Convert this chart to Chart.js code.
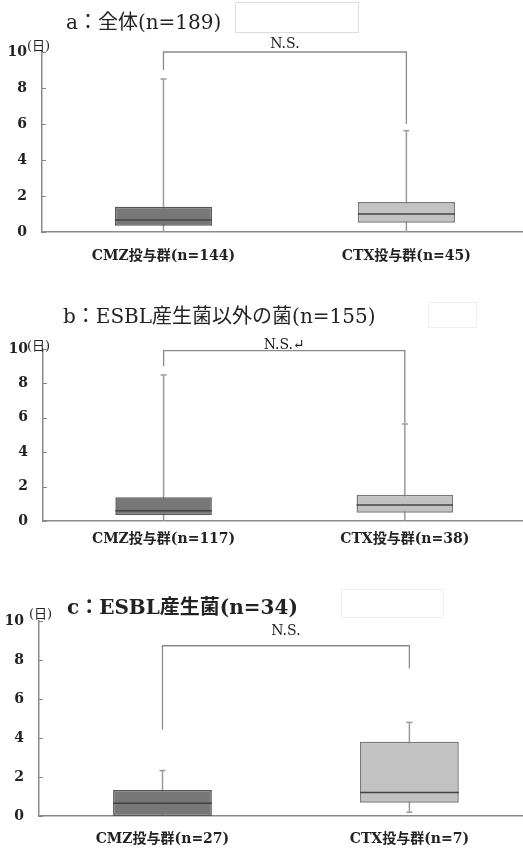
<!DOCTYPE html>
<html>
<head>
<meta charset="utf-8">
<script src="https://cdn.jsdelivr.net/npm/chart.js@4/dist/chart.umd.min.js"></script>
<style>
  body { margin: 0; background: #fff; }
  #page { position: relative; width: 523px; height: 851px; overflow: hidden;
          font-family: "DejaVu Serif", "Noto Sans CJK JP", serif; color: #222; }
  canvas { position: absolute; left: 0; }
  .title { position: absolute; font-size: 20px; white-space: nowrap; }
  .unit { position: absolute; font-size: 13px; white-space: nowrap; }
  .blank { position: absolute; border: 1px solid #ddd; }
</style>
</head>
<body>
<div id="page">
  <canvas id="chartA" width="523" height="275" style="top:0px"></canvas>
  <canvas id="chartB" width="523" height="275" style="top:290px"></canvas>
  <canvas id="chartC" width="523" height="291" style="top:560px"></canvas>

  <div class="title" style="left:66px;top:6px">a：全体(n=189)</div>
  <div class="blank" style="left:235px;top:2px;width:122px;height:29px"></div>
  <div class="unit" style="left:27px;top:35px">(日)</div>

  <div class="title" style="left:63px;top:300px">b：ESBL産生菌以外の菌(n=155)</div>
  <div class="blank" style="left:428px;top:302px;width:47px;height:24px;border-color:#eee"></div>
  <div class="unit" style="left:27px;top:335px">(日)</div>

  <div class="title" style="left:67px;top:591px;font-weight:bold">c：ESBL産生菌(n=34)</div>
  <div class="blank" style="left:341px;top:589px;width:101px;height:27px;border-color:#eee"></div>
  <div class="unit" style="left:29px;top:603px">(日)</div>
</div>
<script>
// tick values for the y axis (days)
const yTicks = [0, 2, 4, 6, 8, 10];

// category labels for each panel
const labelsA = ['CMZ投与群(n=144)', 'CTX投与群(n=45)'];
const labelsB = ['CMZ投与群(n=117)', 'CTX投与群(n=38)'];
const labelsC = ['CMZ投与群(n=27)', 'CTX投与群(n=7)'];

// box stats: [min, q1, median, q3, max]
const statsA_CMZ = [0, 0.35, 0.67, 1.4, 8.5];
const statsA_CTX = [0, 0.51, 1.0, 1.67, 5.63];
const statsB_CMZ = [0, 0.35, 0.6, 1.38, 8.49];
const statsB_CTX = [0, 0.48, 0.93, 1.53, 5.64];
const statsC_CMZ = [0, 0, 0.65, 1.33, 2.33];
const statsC_CTX = [0.19, 0.68, 1.2, 3.81, 4.8];

// significance bracket: [left foot, top, right foot]
const bracketA = [9.0, 10, 6.0];
const bracketB = [9.0, 9.9, 5.7];
const bracketC = [4.44, 8.73, 7.57];
const sigTextA = 'N.S.';
const sigTextB = 'N.S.↵';
const sigTextC = 'N.S.';

const boxFill = ['#777777', '#c2c2c2'];
const boxEdge = ['#555555', '#7a7a7a'];
const FONT = '"DejaVu Serif", "Noto Sans CJK JP", serif';

// draws whiskers, medians, inner ticks and the bracket
const boxExtras = {
  id: 'boxExtras',
  beforeDatasetsDraw(chart) {
    const ctx = chart.ctx, x = chart.scales.x, y = chart.scales.y;
    const stats = chart.options.plugins.boxExtras.stats;
    ctx.save();
    ctx.strokeStyle = '#9a9a9a';
    ctx.lineWidth = 1.5;
    stats.forEach((s, i) => {
      const cx = x.getPixelForValue(i);
      ctx.beginPath();
      ctx.moveTo(cx, y.getPixelForValue(s[0]));
      ctx.lineTo(cx, y.getPixelForValue(s[4]));
      ctx.stroke();
      [s[0], s[4]].forEach(v => {
        if (v <= 0) return;
        const py = y.getPixelForValue(v);
        ctx.beginPath();
        ctx.moveTo(cx - 3, py);
        ctx.lineTo(cx + 3, py);
        ctx.stroke();
      });
    });
    ctx.restore();
  },
  afterDatasetsDraw(chart) {
    const ctx = chart.ctx, x = chart.scales.x, y = chart.scales.y;
    const o = chart.options.plugins.boxExtras;
    ctx.save();
    // medians
    const meta = chart.getDatasetMeta(0);
    o.stats.forEach((s, i) => {
      const bar = meta.data[i];
      const py = y.getPixelForValue(s[2]);
      ctx.strokeStyle = '#444';
      ctx.lineWidth = 1.5;
      ctx.beginPath();
      ctx.moveTo(bar.x - bar.width / 2, py);
      ctx.lineTo(bar.x + bar.width / 2, py);
      ctx.stroke();
    });
    // inner tick marks
    ctx.strokeStyle = '#888';
    ctx.lineWidth = 1;
    y.ticks.forEach(t => {
      const py = Math.round(y.getPixelForValue(t.value)) + 0.5;
      ctx.beginPath();
      ctx.moveTo(chart.chartArea.left, py);
      ctx.lineTo(chart.chartArea.left + 4, py);
      ctx.stroke();
    });
    // bracket
    const b = o.bracket;
    const x1 = x.getPixelForValue(0), x2 = x.getPixelForValue(1);
    const top = y.getPixelForValue(b[1]);
    ctx.strokeStyle = '#8a8a8a';
    ctx.lineWidth = 1.3;
    ctx.beginPath();
    ctx.moveTo(x1, y.getPixelForValue(b[0]));
    ctx.lineTo(x1, top);
    ctx.lineTo(x2, top);
    ctx.lineTo(x2, y.getPixelForValue(b[2]));
    ctx.stroke();
    ctx.fillStyle = '#222';
    ctx.font = '14px ' + FONT;
    ctx.textAlign = 'center';
    ctx.textBaseline = 'alphabetic';
    ctx.fillText(o.sigText, (x1 + x2) / 2, top - o.sigGap);
    ctx.restore();
  }
};

function makePanel(id, labels, stats, bracket, sigText, sigGap, padTop, xMax, xHeight, yWidth, xPad) {
  return new Chart(document.getElementById(id), {
    type: 'bar',
    data: {
      datasets: [{
        data: stats.map((s, i) => ({ x: i, y: [s[1], s[3]] })),
        backgroundColor: boxFill,
        borderColor: boxEdge,
        borderWidth: 1.5,
        borderSkipped: false,
        barPercentage: 0.4,
        categoryPercentage: 1
      }]
    },
    options: {
      responsive: false,
      animation: false,
      layout: { padding: { top: padTop, left: 0, right: 0, bottom: 0 } },
      plugins: {
        legend: { display: false },
        tooltip: { enabled: false },
        boxExtras: { stats: stats, bracket: bracket, sigText: sigText, sigGap: sigGap }
      },
      scales: {
        x: {
          type: 'linear',
          offset: false,
          min: -0.5, max: xMax,
          afterBuildTicks: s => { s.ticks = labels.map((l, i) => ({ value: i })); },
          grid: { display: false, drawTicks: false },
          border: { color: '#8a8a8a', width: 1.5 },
          ticks: { color: '#222', padding: xPad, maxRotation: 0, autoSkip: false,
                   callback: v => labels[v],
                   font: { family: FONT, size: 14, weight: 'bold' } },
          afterFit: s => { s.height = xHeight; }
        },
        y: {
          min: 0, max: 10,
          afterBuildTicks: s => { s.ticks = yTicks.map(v => ({ value: v })); },
          grid: { display: false, drawTicks: false },
          border: { color: '#8a8a8a', width: 1.5 },
          ticks: { color: '#222', padding: 15, font: { family: FONT, size: 14, weight: 'bold' } },
          afterFit: s => { s.width = yWidth; }
        }
      }
    },
    plugins: [boxExtras]
  });
}

makePanel('chartA', labelsA, [statsA_CMZ, statsA_CTX], bracketA, sigTextA, 4, 52, 1.48, 43, 42, 16);
makePanel('chartB', labelsB, [statsB_CMZ, statsB_CTX], bracketB, sigTextB, 2, 59, 1.49, 44, 43, 10);
makePanel('chartC', labelsC, [statsC_CMZ, statsC_CTX], bracketC, sigTextC, 11, 61, 1.46, 35, 39, 15);
</script>
</body>
</html>
